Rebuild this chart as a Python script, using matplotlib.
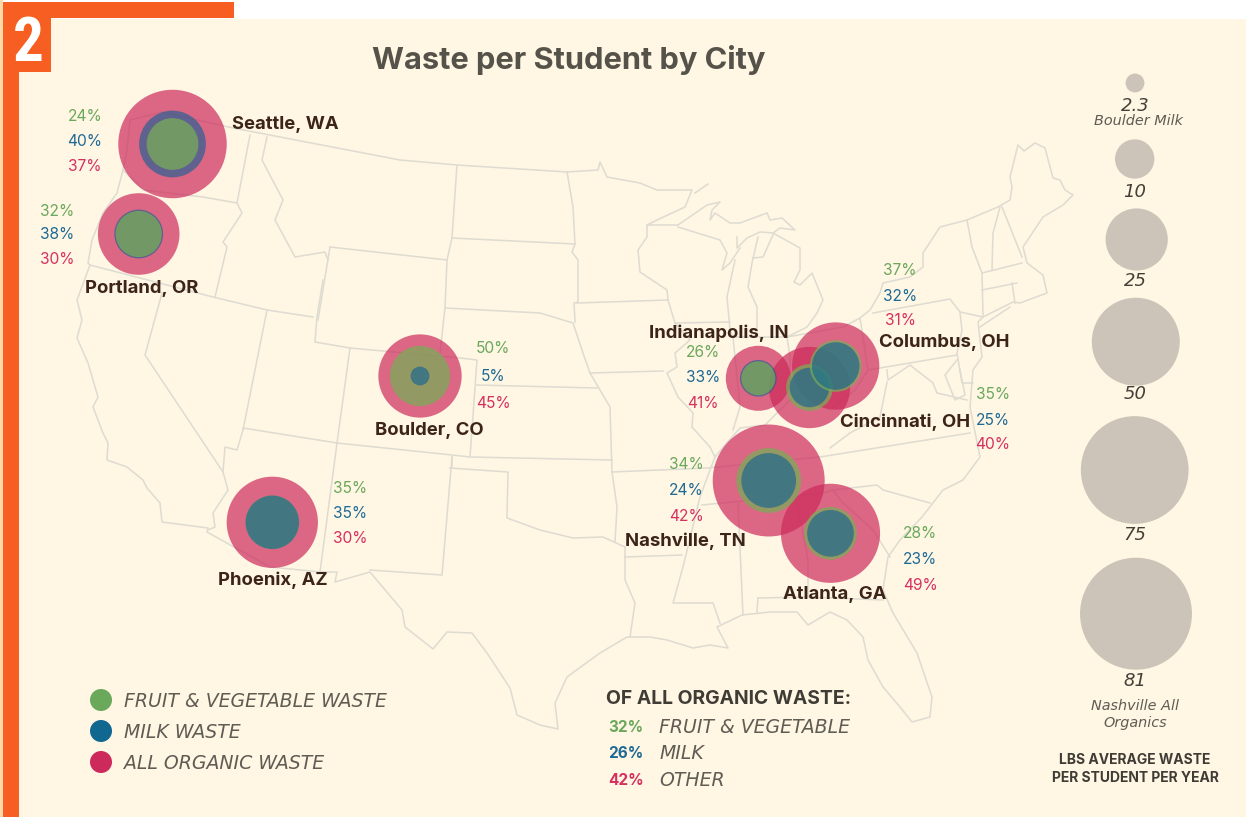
import matplotlib
matplotlib.use("Agg")
import matplotlib.pyplot as plt
from matplotlib.patches import Circle, Rectangle

# bubble data, lbs per student per year
cities = ["Seattle, WA", "Portland, OR", "Boulder, CO", "Phoenix, AZ", "Indianapolis, IN",
          "Cincinnati, OH", "Columbus, OH", "Nashville, TN", "Atlanta, GA"]
city_x = [172.5, 138.7, 420, 272.3, 758.3, 809.5, 835.7, 768.7, 830.5]
city_y = [144, 234, 376, 522.3, 378.3, 387.5, 366, 480.5, 533.3]
all_waste = [76, 43, 44.8, 53.8, 27.3, 42.7, 49.2, 81, 63.5]
fruit_waste = [17.3, 13.8, 23.4, 18.5, 7.5, 14.1, 17.2, 27.1, 17.9]
milk_waste = [28.8, 15.4, 2.3, 18.5, 8.7, 10.1, 14.6, 19.4, 14.1]

fruit_pct = [24, 32, 50, 35, 26, 35, 37, 34, 28]
milk_pct = [40, 38, 5, 35, 33, 25, 32, 24, 23]
organic_pct = [37, 30, 45, 30, 41, 40, 31, 42, 49]

scale_values = [2.3, 10, 25, 50, 75, 81]
scale_labels = ["2.3", "10", "25", "50", "75", "81"]
scale_x = [1135, 1134.7, 1136.7, 1135.8, 1134.7, 1136]
scale_y = [83, 159, 239.5, 341.7, 470, 613.7]

legend_names = ["FRUIT & VEGETABLE WASTE", "MILK WASTE", "ALL ORGANIC WASTE"]
share_names = ["FRUIT & VEGETABLE", "MILK", "OTHER"]
share_pct = [32, 26, 42]

# map outline, traced in image pixels
north_border = [(162,112),(233,128),(400,160),(457,165),(567,172),(598,170),(600,162),(607,177),(640,183),
    (657,190),(692,190),(685,207),(657,220),(647,225),(668,225),(678,225),(707,205),(720,202),(712,210),
    (710,220),(715,213),(730,223),(740,223),(767,213),(770,220),(782,218),(795,230),(780,228),(773,233),
    (760,232),(747,238),(737,248),(737,237)]
wi_up_border = [(678,227),(720,240),(727,253),(722,270),(730,263),(740,248)]
lake_michigan_w = [(735,260),(727,297),(730,330),(733,337)]
lake_michigan_e = [(758,237),(752,263),(748,287),(757,307),(757,337)]
lower_michigan = [(773,233),(800,248),(800,270),(794,282),(800,285),(812,273),(823,300),(817,313),(807,327),(787,337)]
saginaw = [(773,235),(763,257),(753,258)]
isle_royale = [(695,193),(708,184)]
east_coast = [(733,337),(787,337),(843,327),(860,318),(870,310),(880,293),(883,283),(910,277),(923,267),(923,253),
    (940,227),(967,220),(998,207),(1010,200),(1012,187),(1010,177),(1018,145),(1024,151),(1035,143),(1045,148),
    (1053,178),(1060,180),(1065,190),(1073,195),(1063,205),(1043,217),
    (1023,247),(1027,263),(1043,275),(1047,293),(1020,303),(1013,302),(983,317),(978,322),(982,357),
    (973,370),(970,407),(980,457),(963,480),(943,490),(922,517),(900,540),(888,557),(883,590),(893,613),
    (917,653),(932,697),(930,717),(912,722),(900,707),(883,687),(868,660),(863,637),(847,620),(830,612),
    (808,625),(797,612),(770,612),(742,615),(717,627),(728,648),(710,645),(693,648),(667,640),(650,637),
    (627,637),(600,653),(567,677),(555,703),(558,729),(540,725),(517,715),(510,688),(487,653),(472,633),
    (447,632),(433,649),(405,627),(402,610),(370,572),(335,582),(337,572),(320,572),(270,567),(207,532),
    (208,528),(162,522),(160,503),(147,488),(143,480),(127,467),(107,460),(108,443),(103,433),(93,407),
    (98,397),(93,380),(88,363),(77,338),(82,320),(77,300),(90,265),(88,263),(92,240),(103,213),(117,193),
    (123,170),(127,150),(130,120),(162,112)]
borders = [
    [(250,135),(237,203)],
    [(123,170),(143,190),(203,197),(237,203),(242,213),(223,242),(227,247),(215,297)],
    [(267,137),(262,160),(283,200),(275,220),(295,257),(325,252),(328,260)],
    [(330,247),(318,320)],
    [(330,247),(420,257),(447,260)],
    [(90,265),(213,297),(267,310),(313,317)],
    [(162,293),(145,355),(223,472),(228,490),(213,513),(215,527),(208,530)],
    [(223,472),(225,447),(237,450),(243,430)],
    [(267,310),(243,430)],
    [(323,280),(317,317),(315,342),(350,348),(337,443)],
    [(350,348),(460,358),(477,360),(470,457)],
    [(243,428),(337,443),(452,455),(470,457),(612,460)],
    [(337,443),(320,572)],
    [(452,457),(442,575),(370,570)],
    [(457,165),(452,238),(447,260),(445,308),(440,353)],
    [(477,385),(597,388)],
    [(445,308),(540,313),(573,323),(583,353),(590,373),(600,390),(610,407),(612,472)],
    [(452,238),(575,244)],
    [(567,172),(573,207),(575,244),(572,252),(578,260),(578,302),(574,303),(575,322)],
    [(577,303),(668,300)],
    [(647,225),(647,237),(638,250),(640,272),(667,290),(668,300),(675,323),(690,340),(675,353),(677,367),
     (667,373),(678,397),(693,413),(692,427),(710,447),(715,457),(710,470),(700,497),(683,567),(673,603),
     (713,603),(720,623)],
    [(590,373),(663,371)],
    [(675,323),(730,322)],
    [(733,337),(740,407),(733,430)],
    [(787,337),(790,357),(790,400)],
    [(715,457),(725,445),(740,428),(765,425),(790,400),(808,395),(830,410),(855,390),(868,370),(860,318)],
    [(612,472),(707,468),(820,457),(970,433)],
    [(702,505),(823,493),(833,490),(877,485),(883,490),(930,503)],
    [(833,490),(842,502),(873,530),(890,557)],
    [(808,597),(883,600)],
    [(758,598),(807,597)],
    [(758,598),(757,612)],
    [(796,497),(808,560),(808,597)],
    [(738,503),(743,615)],
    [(625,557),(682,555)],
    [(625,547),(625,580),(635,603),(630,637)],
    [(450,468),(508,472),(507,518),(540,530),(573,538),(603,537),(625,547)],
    [(452,457),(452,467),(450,468)],
    [(612,472),(617,507),(615,542)],
    [(868,370),(957,355)],
    [(873,313),(950,299),(960,312),(983,317)],
    [(960,313),(962,330),(957,353),(962,383),(973,383)],
    [(887,370),(888,380),(910,365),(933,383),(937,393),(967,400)],
    [(887,382),(880,417),(850,433),(830,448)],
    [(967,220),(972,247),(982,273),(983,315)],
    [(1000,207),(993,233),(992,270)],
    [(1002,207),(1022,257)],
    [(982,273),(1022,263)],
    [(982,290),(1017,283)],
    [(1012,283),(1015,303)],
    [(980,327),(1010,307)],
    [(957,360),(945,375),(955,400),(965,395),(960,370)],
]

CREAM = "#fff6e4"
ORANGE = "#f65e22"
GREEN = "#6aa85a"
BLUE = "#1f6a94"
RED = "#d6305f"
DARK = "#3d2418"
GREY = "#5f5c54"
K = 6.22  # px radius per sqrt(lb)

plt.rcParams["font.family"] = ["Inter", "DejaVu Sans"]

fig = plt.figure(figsize=(12.46, 8.17), dpi=100, facecolor="white")
ax = fig.add_axes([0, 0, 1, 1])
ax.set_xlim(0, 1246)
ax.set_ylim(817, 0)
ax.axis("off")

def put(x, y, s, color, size, bold=False, italic=False, ha="center"):
    # text baseline sits about 1.5px high with va=center
    ax.text(x, y + 1.5, s, color=color, fontsize=size, ha=ha, va="center", zorder=6,
            fontweight="bold" if bold else "normal",
            style="italic" if italic else "normal",
            family=["DejaVu Sans"] if italic else ["Inter", "DejaVu Sans"])

ax.add_patch(Rectangle((19, 19), 1227, 798, color=CREAM, lw=0, zorder=0))
ax.add_patch(Rectangle((0, 0), 3, 817, color="#ffd9a8", lw=0, zorder=1))
ax.add_patch(Rectangle((3, 2), 16, 815, color=ORANGE, lw=0, zorder=1))
ax.add_patch(Rectangle((3, 2), 231, 16, color=ORANGE, lw=0, zorder=1))
ax.add_patch(Rectangle((3, 2), 48, 70, color=ORANGE, lw=0, zorder=1))
ax.text(28, 38, "2", color="white", fontsize=44, fontweight="bold",
        family=["Liberation Sans Narrow", "Roboto Condensed", "Liberation Sans"],
        ha="center", va="center_baseline", zorder=2)

# map
line_kw = dict(color="#dedbd1", lw=1.1, solid_joinstyle="round", zorder=1)
map_paths = [north_border, wi_up_border, lake_michigan_w, lake_michigan_e, lower_michigan, saginaw,
             isle_royale, east_coast] + borders
for path in map_paths:
    ax.plot([p[0] for p in path], [p[1] for p in path], **line_kw)

put(569, 58, "Waste per Student by City", "#55524a", 22.2, bold=True)

# bubbles: reds first, the inner ones after, larger of the two underneath
for i in range(len(cities)):
    r = K * all_waste[i] ** 0.5
    ax.add_patch(Circle((city_x[i], city_y[i]), r, fc="#cd2a5b", ec="none", alpha=0.7, zorder=2))
for i in range(len(cities)):
    pair = [(fruit_waste[i], "#79ad57", 0.73), (milk_waste[i], "#0c6096", 0.6)]
    pair.sort(key=lambda q: -q[0])
    for val, col, a in pair:
        ax.add_patch(Circle((city_x[i], city_y[i]), K * val ** 0.5, fc=col, ec="none", alpha=a, zorder=3))

# city names and percentages
name_x = [285, 141.5, 429.5, 272.5, 719, 905, 944.5, 685, 835]
name_y = [123, 287, 429, 579, 332, 421, 341, 540, 593]
pct_x = [85, 57, 493, 350, 703, 993, 900, 686, 920]
pct_y = [(115,140,165), (210,233,258), (347,375,402), (487,512,537), (351,376,402),
         (393,419,443), (269,295,319), (463,489,515), (532,558,584)]
for i, c in enumerate(cities):
    put(name_x[i], name_y[i], c, DARK, 13.3, bold=True)
    for val, y, col in zip((fruit_pct[i], milk_pct[i], organic_pct[i]), pct_y[i], (GREEN, BLUE, RED)):
        put(pct_x[i], y, f"{val}%", col, 11.2)

# size scale
scale_label_y = [104, 190, 279, 392, 534, 680]
for x, y, v, lab, ly in zip(scale_x, scale_y, scale_values, scale_labels, scale_label_y):
    ax.add_patch(Circle((x, y), K * v ** 0.5, fc="#ccc4b8", ec="none", zorder=2))
    put(1135, ly, lab, "#444039", 13, italic=True)
for txt, x, y in [("Boulder Milk", 1139, 119), ("Nashville All", 1135, 705), ("Organics", 1135, 722)]:
    put(x, y, txt, GREY, 10.4, italic=True)
put(1135, 758, "LBS AVERAGE WASTE", "#3f3c36", 10, bold=True)
put(1135, 776, "PER STUDENT PER YEAR", "#3f3c36", 10, bold=True)

# left legend
for name, y, col in zip(legend_names, (700, 731, 762), (GREEN, "#106890", "#cd2a5b")):
    ax.add_patch(Circle((101, y), 11, fc=col, ec="none", zorder=3))
    put(124, y, name, GREY, 13.6, italic=True, ha="left")

# shares
put(606, 698, "OF ALL ORGANIC WASTE:", "#3f3c36", 13.9, bold=True, ha="left")
for name, v, y, col in zip(share_names, share_pct, (726, 752, 779), (GREEN, BLUE, RED)):
    put(608, y, f"{v}%", col, 11, bold=True, ha="left")
    put(659, y, name, GREY, 13.6, italic=True, ha="left")

fig.savefig("out.png", dpi=100, facecolor="white")
